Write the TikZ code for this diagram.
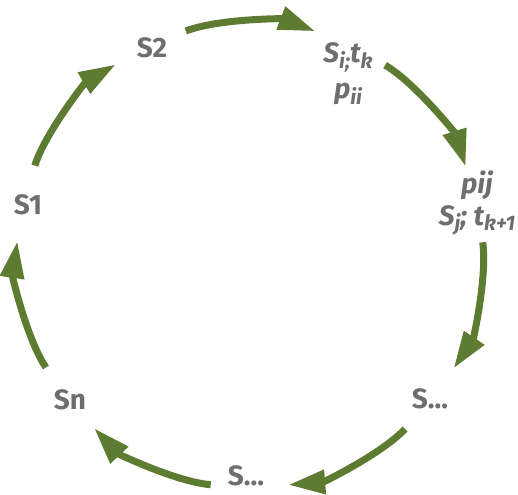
\documentclass[tikz,border=0pt]{standalone}
\usepackage{fontspec}
\setmainfont{Fira Sans}
\usepackage{xcolor}
\definecolor{leaf}{HTML}{5E7B32}
\definecolor{slate}{HTML}{6E6E6E}
\usetikzlibrary{arrows.meta}
\newcommand\lo[1]{\raisebox{-0.4ex}{\fontsize{10.5}{10}\selectfont #1}}

\begin{document}
\begin{tikzpicture}[x=0.5pt, y=0.5pt, font=\fontsize{14}{16}\selectfont\bfseries,
    stop/.style={circle, minimum size=38.5pt, inner sep=0pt},
    lbl/.style={text=slate, align=center, inner sep=0pt},
    ital/.style={font=\fontsize{14}{16}\selectfont\bfseries\itshape},
    flow/.style={leaf, line width=3.5pt, -{Triangle[length=18.5pt,width=11.5pt]},
      bend left=21, looseness=0.69}]

  \useasboundingbox (-250,-239) rectangle (268,255);

  % stops on the ring
  \node[stop] (s1) at (167:233) {};
  \node[stop] (s2) at (115.57:233) {};
  \node[stop] (si) at (64.14:233) {};
  \node[stop] (sj) at (12.71:233) {};
  \node[stop] (sa) at (-38.71:233) {};
  \node[stop] (sb) at (-90.14:233) {};
  \node[stop] (sn) at (-141.57:233) {};

  % labels
  \node[lbl] (s1 text) at (-222,50) {S1};
  \node[lbl] (s2 text) at (-98,207) {S2};
  \node[lbl, ital] (si text) at (98,181)
    {S\lo{i;}t\lo{k}\\[2pt] p\lo{ii}};
  \node[lbl, ital] (sj text) at (227,52)
    {pij\\ S\lo{j}; t\lo{k+1}};
  \node[lbl] (sa text) at (180,-144) {S...};
  \node[lbl] (sb text) at (-4,-221) {S...};
  \node[lbl] (sn text) at (-180,-145) {Sn};

  % arrows round the ring
  \draw[flow] (s1) to (s2);
  \draw[flow] (s2) to (si);
  \draw[flow] (si) to (sj);
  \draw[flow] (sj) to (sa);
  \draw[flow] (sa) to (sb);
  \draw[flow] (sb) to (sn);
  \draw[flow] (sn) to (s1);

\end{tikzpicture}
\end{document}
